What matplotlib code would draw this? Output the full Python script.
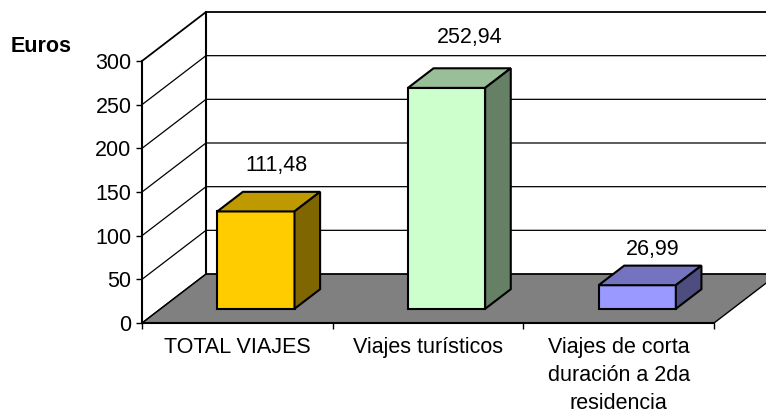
import matplotlib
matplotlib.use('Agg')
import matplotlib.pyplot as plt
from matplotlib.patches import Polygon

plt.rcParams['font.family'] = ['Liberation Sans', 'DejaVu Sans']

CATEGORIES = ['TOTAL VIAJES', 'Viajes turísticos',
              'Viajes de corta\nduración a 2da\nresidencia']
VALUES = [111.48, 252.94, 26.99]
VALUE_LABELS = ['111,48', '252,94', '26,99']
YTICKS = [0, 50, 100, 150, 200, 250, 300]

FRONT = ['#ffcc00', '#ccffcc', '#9999ff']
TOP = ['#bf9900', '#99bf99', '#7373bf']
SIDE = ['#806600', '#668066', '#4d4d80']

W, H = 766, 416
LEFT, RIGHT, TOP_PX, BOTTOM = 142, 714, 61, 323
FONT = 15.5

# depth of the fake 3d box, in data units
DEPTH_X = 64 / ((RIGHT - LEFT) / 3)
DEPTH_Y = 49 / ((BOTTOM - TOP_PX) / 300)
BAR_W = 0.405
BAR_START = 0.29
BAR_DEPTH = 0.40


def bar_3d(ax, center, value, i):
    x0 = center - BAR_W / 2 + BAR_START * DEPTH_X
    x1 = x0 + BAR_W
    y0 = BAR_START * DEPTH_Y
    y1 = y0 + value
    dx = BAR_DEPTH * DEPTH_X
    dy = BAR_DEPTH * DEPTH_Y
    faces = [
        ([(x0, y0), (x1, y0), (x1, y1), (x0, y1)], FRONT[i]),
        ([(x0, y1), (x1, y1), (x1 + dx, y1 + dy), (x0 + dx, y1 + dy)], TOP[i]),
        ([(x1, y0), (x1 + dx, y0 + dy), (x1 + dx, y1 + dy), (x1, y1)], SIDE[i]),
    ]
    for pts, color in faces:
        ax.add_patch(Polygon(pts, closed=True, facecolor=color, edgecolor='black',
                             linewidth=1.5, joinstyle='miter', clip_on=False, zorder=5))
    return y1 + dy


fig = plt.figure(figsize=(W / 100, H / 100), dpi=100)
ax = fig.add_axes([LEFT / W, 1 - BOTTOM / H, (RIGHT - LEFT) / W, (BOTTOM - TOP_PX) / H])
ax.set_xlim(0, 3)
ax.set_ylim(0, 300)
ax.patch.set_alpha(0)

# floor
ax.add_patch(Polygon([(0, 0), (3, 0), (3 + DEPTH_X, DEPTH_Y), (DEPTH_X, DEPTH_Y)],
                     closed=True, facecolor='#808080', edgecolor='black',
                     linewidth=1.0, clip_on=False, zorder=1))

# walls
for v in YTICKS:
    lw = 1.3 if v == 300 else 0.9
    ax.plot([0, DEPTH_X, 3 + DEPTH_X], [v, v + DEPTH_Y, v + DEPTH_Y],
            color='black', lw=lw, clip_on=False, zorder=2, solid_joinstyle='miter')
ax.plot([DEPTH_X, DEPTH_X], [DEPTH_Y, 300 + DEPTH_Y], color='black', lw=1.5,
        clip_on=False, zorder=3)

# bars and labels
label_dx = [0.11, 0.12, 0.08]
label_dy = [30, 35, 19]
for i, v in enumerate(VALUES):
    top = bar_3d(ax, i + 0.5, v, i)
    ax.text(i + 0.5 + BAR_START * DEPTH_X + label_dx[i], top + label_dy[i], VALUE_LABELS[i],
            ha='center', va='center', fontsize=FONT, color='black', zorder=6)

for side in ['top', 'right']:
    ax.spines[side].set_visible(False)
for side in ['left', 'bottom']:
    ax.spines[side].set_linewidth(1.5)
    ax.spines[side].set_zorder(4)

ax.set_yticks(YTICKS)
ax.set_xticks([0, 1, 2, 3])
ax.set_xticklabels([])
ax.set_xticks([0.5, 1.5, 2.5], minor=True)
ax.set_xticklabels(CATEGORIES, minor=True, fontsize=FONT, linespacing=1.45, va='top')
ax.tick_params(axis='x', which='minor', length=0, pad=10)
ax.tick_params(axis='both', which='major', length=4.5, width=1.0, labelsize=FONT, pad=3)

fig.text(41 / W, 1 - 46 / H, 'Euros', fontsize=FONT, fontweight='bold',
         ha='center', va='center')

fig.savefig('out.png', dpi=100)
